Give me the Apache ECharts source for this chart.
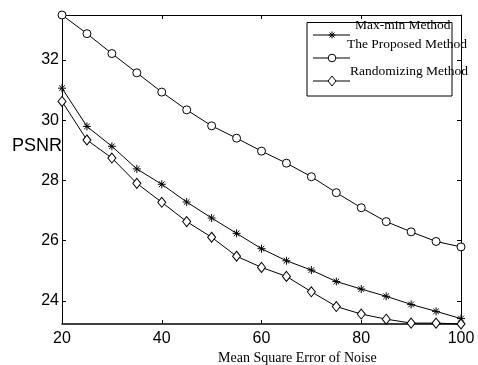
<!DOCTYPE html>
<html>
<head>
<meta charset="utf-8">
<script src="https://cdn.jsdelivr.net/npm/echarts@6/dist/echarts.min.js"></script>
<style>
  html, body { margin: 0; padding: 0; background: #fff; }
  #chart { width: 478px; height: 365px; }
</style>
</head>
<body>
<div id="chart"></div>
<script>
// noise MSE on x
const noiseMse = [20, 25, 30, 35, 40, 45, 50, 55, 60, 65, 70, 75, 80, 85, 90, 95, 100];
const maxMin = [31.06, 29.79, 29.13, 28.38, 27.87, 27.28, 26.75, 26.24, 25.73, 25.33, 25.02, 24.64, 24.39, 24.15, 23.88, 23.65, 23.41];
const proposed = [33.49, 32.87, 32.21, 31.57, 30.93, 30.34, 29.81, 29.40, 28.97, 28.57, 28.12, 27.59, 27.09, 26.63, 26.29, 25.97, 25.79];
const randomizing = [30.62, 29.34, 28.74, 27.90, 27.27, 26.63, 26.11, 25.48, 25.11, 24.81, 24.30, 23.81, 23.56, 23.39, 23.26, 23.26, 23.23];
const yTicks = [24, 26, 28, 30, 32];
const seriesNames = ["Max-min Method", "The Proposed Method", "Randomizing Method"];

const STAR = "path://M5 0L5 10M0 5L10 5M1.5 1.5L8.5 8.5M1.5 8.5L8.5 1.5";
const sans = "Liberation Sans, Arial, sans-serif";
const serif = "Liberation Serif, Times New Roman, serif";

const chart = echarts.init(document.getElementById("chart"), null, { renderer: "canvas" });

const pair = (ys) => noiseMse.map((x, i) => [x, ys[i]]);

const mkSeries = (name, data, symbol, size) => ({
  name,
  type: "line",
  data: pair(data),
  symbol,
  symbolSize: size,
  showAllSymbol: true,
  clip: false,
  lineStyle: { color: "#000", width: 1 },
  itemStyle: { color: "#fff", borderColor: "#000", borderWidth: 1 },
  emphasis: { disabled: true }
});

// legend built by hand, the original one is drawn a bit off
const legendX0 = 313, legendX1 = 350, legendMx = 332;
const legendRows = [35, 58, 81];
const legendText = [[355, 25], [347, 44], [350, 71]];

const legendGraphics = [
  { type: "rect", shape: { x: 307, y: 22.5, width: 145, height: 73.5 },
    style: { fill: "#fff", stroke: "#000", lineWidth: 1 }, z: 10 }
];
legendRows.forEach((y, i) => {
  legendGraphics.push({ type: "line", shape: { x1: legendX0, y1: y, x2: legendX1, y2: y },
    style: { stroke: "#000", lineWidth: 1 }, z: 11 });
  legendGraphics.push({ type: "text", x: legendText[i][0], y: legendText[i][1],
    style: { text: seriesNames[i], font: "13.5px " + serif, fill: "#000", textVerticalAlign: "middle" }, z: 12 });
});
// asterisk marker
const starArms = [[0, -3.5, 0, 3.5], [-3.5, 0, 3.5, 0], [-2.5, -2.5, 2.5, 2.5], [-2.5, 2.5, 2.5, -2.5]];
starArms.forEach((a) => {
  legendGraphics.push({ type: "line",
    shape: { x1: legendMx + a[0], y1: legendRows[0] + a[1], x2: legendMx + a[2], y2: legendRows[0] + a[3] },
    style: { stroke: "#000", lineWidth: 1 }, z: 12 });
});
legendGraphics.push({ type: "circle", shape: { cx: legendMx, cy: legendRows[1], r: 3.8 },
  style: { fill: "#fff", stroke: "#000", lineWidth: 1 }, z: 12 });
legendGraphics.push({ type: "polygon", shape: { points: [[legendMx, 76], [legendMx + 4, 81], [legendMx, 86], [legendMx - 4, 81]] },
  style: { fill: "#fff", stroke: "#000", lineWidth: 1 }, z: 12 });

const tick = { show: true, inside: true, length: 4, lineStyle: { color: "#000" } };

chart.setOption({
  animation: false,
  backgroundColor: "#fff",
  grid: { left: 62, right: 17, top: 15, bottom: 41 },
  xAxis: [
    {
      type: "value", min: 20, max: 100, interval: 20,
      axisLine: { lineStyle: { color: "#000", width: 1.5 } },
      axisTick: tick,
      axisLabel: { color: "#000", fontSize: 16, fontFamily: sans, margin: 7 },
      splitLine: { show: false }
    },
    {
      type: "value", position: "top", min: 20, max: 100, interval: 20,
      axisLine: { show: true, lineStyle: { color: "#000", width: 1 } },
      axisTick: tick,
      axisLabel: { show: false },
      splitLine: { show: false }
    }
  ],
  yAxis: [
    {
      type: "value", min: 23.23, max: 33.49,
      axisLine: { show: true, lineStyle: { color: "#000", width: 1 } },
      axisTick: Object.assign({ customValues: yTicks }, tick),
      axisLabel: { color: "#000", fontSize: 16, fontFamily: sans, margin: 3, customValues: yTicks },
      splitLine: { show: false }
    },
    {
      type: "value", position: "right", min: 23.23, max: 33.49,
      axisLine: { show: true, lineStyle: { color: "#000", width: 1 } },
      axisTick: Object.assign({ customValues: yTicks }, tick),
      axisLabel: { show: false, customValues: yTicks },
      splitLine: { show: false }
    }
  ],
  series: [
    mkSeries(seriesNames[0], maxMin, STAR, 8),
    mkSeries(seriesNames[1], proposed, "circle", 8),
    mkSeries(seriesNames[2], randomizing, "diamond", [8, 10])
  ],
  graphic: [
    { type: "text", x: 62, y: 146,
      style: { text: "PSNR", font: "18px " + sans, fill: "#000", textAlign: "right", textVerticalAlign: "middle" } },
    { type: "text", x: 218, y: 358,
      style: { text: "Mean Square Error of Noise", font: "14px " + serif, fill: "#000", textVerticalAlign: "middle" } },
    ...legendGraphics
  ]
});
</script>
</body>
</html>
